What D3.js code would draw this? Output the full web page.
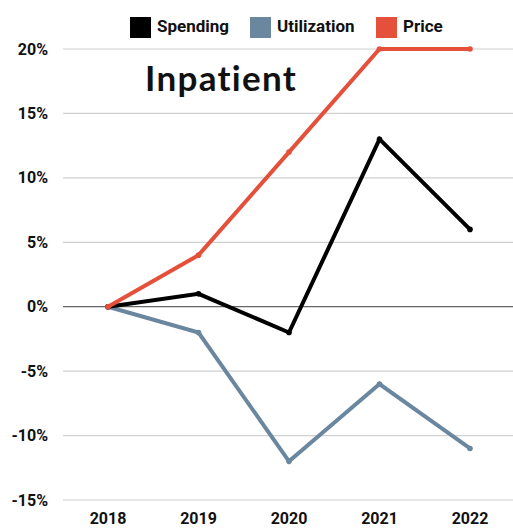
<!DOCTYPE html>
<html>
<head>
<meta charset="utf-8">
<script src="https://cdn.jsdelivr.net/npm/d3@7"></script>
<style>
  body { margin: 0; background: #fff; }
  svg { display: block; font-family: Roboto, sans-serif; }
</style>
</head>
<body>
<div id="chart"></div>
<script>
var years = ["2018", "2019", "2020", "2021", "2022"];
var spending = [0, 1, -2, 13, 6];
var utilization = [0, -2, -12, -6, -11];
var price = [0, 4, 12, 20, 20];
var yTicks = [-15, -10, -5, 0, 5, 10, 15, 20];
var seriesNames = ["Spending", "Utilization", "Price"];
var seriesColors = ["#000000", "#6a879f", "#e5503a"];

var width = 513, height = 528;
var svg = d3.select("#chart").append("svg")
    .attr("width", width)
    .attr("height", height);

var x = d3.scalePoint()
    .domain(years)
    .range([108, 470]);

var y = d3.scaleLinear()
    .domain([-15, 20])
    .range([500, 49]);

// grid
svg.append("g")
    .selectAll("line")
    .data(yTicks)
    .enter().append("line")
    .attr("x1", 63)
    .attr("x2", width)
    .attr("y1", function (d) { return y(d); })
    .attr("y2", function (d) { return y(d); })
    .attr("stroke", function (d) { return d == 0 ? "#666" : "#d0d0d0"; })
    .attr("stroke-width", 1.2);

// y labels
svg.append("g")
    .selectAll("text")
    .data(yTicks)
    .enter().append("text")
    .attr("x", 48)
    .attr("y", function (d) { return y(d); })
    .attr("dy", "0.35em")
    .attr("text-anchor", "end")
    .attr("font-size", 16)
    .attr("font-weight", "bold")
    .attr("fill", "#111")
    .text(function (d) { return d + "%"; });

// x labels
svg.append("g")
    .selectAll("text")
    .data(years)
    .enter().append("text")
    .attr("x", function (d) { return x(d); })
    .attr("y", 524)
    .attr("text-anchor", "middle")
    .attr("font-size", 16)
    .attr("font-weight", "bold")
    .attr("fill", "#111")
    .text(function (d) { return d; });

// title
svg.append("text")
    .attr("x", 145)
    .attr("y", 91)
    .attr("font-family", "Lato, sans-serif")
    .attr("font-size", 35)
    .attr("font-weight", "bold")
    .attr("letter-spacing", 1.3)
    .attr("fill", "#111")
    .text("Inpatient");

var allSeries = [spending, utilization, price];
var line = d3.line()
    .x(function (d, i) { return x(years[i]); })
    .y(function (d) { return y(d); });

// utilization first, then spending, price on top
var order = [1, 0, 2];
order.forEach(function (k) {
    svg.append("path")
        .datum(allSeries[k])
        .attr("fill", "none")
        .attr("stroke", seriesColors[k])
        .attr("stroke-width", 4)
        .attr("stroke-linejoin", "miter")
        .attr("d", line);
    svg.append("g")
        .selectAll("circle")
        .data(allSeries[k])
        .enter().append("circle")
        .attr("cx", function (d, i) { return x(years[i]); })
        .attr("cy", function (d) { return y(d); })
        .attr("r", 2.8)
        .attr("fill", seriesColors[k]);
});

// legend
var legendX = [130, 250, 376];
var legend = svg.append("g");
seriesNames.forEach(function (name, i) {
    legend.append("rect")
        .attr("x", legendX[i])
        .attr("y", 17)
        .attr("width", 21)
        .attr("height", 21)
        .attr("fill", seriesColors[i]);
    legend.append("text")
        .attr("x", legendX[i] + 27)
        .attr("y", 32)
        .attr("font-size", 17)
        .attr("font-weight", "bold")
        .attr("fill", "#111")
        .text(name);
});
</script>
</body>
</html>
